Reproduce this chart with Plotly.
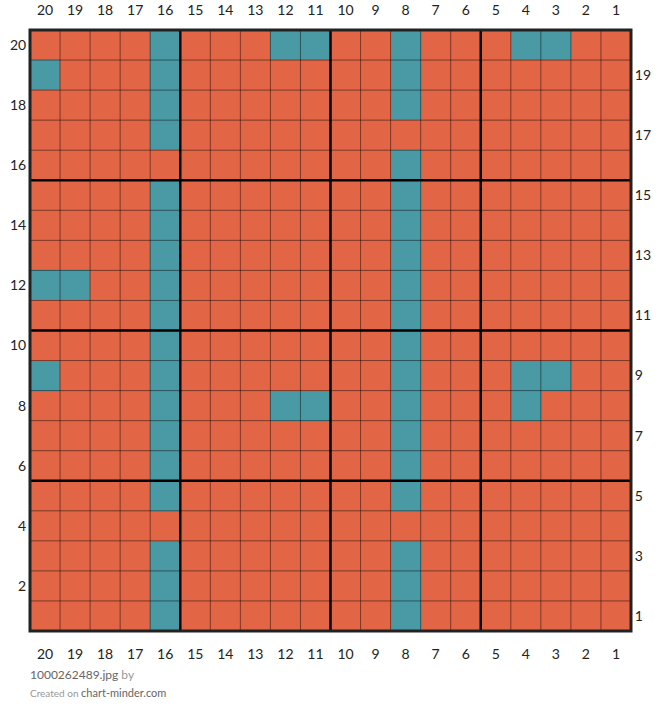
import plotly.graph_objects as go

# column / row labels as shown on the chart
col_labels = list(range(20, 0, -1))   # left -> right
row_labels = list(range(20, 0, -1))   # top -> bottom

# teal cells, as (row, column) pairs, listed row by row
teal_rows = [20, 20, 20, 20, 20, 20,
             19, 19, 19,
             18, 18,
             17,
             16,
             15, 15,
             14, 14,
             13, 13,
             12, 12, 12, 12,
             11, 11,
             10, 10,
             9, 9, 9, 9, 9,
             8, 8, 8, 8, 8,
             7, 7,
             6, 6,
             5, 5,
             3, 3,
             2, 2,
             1, 1]
teal_cols = [16, 12, 11, 8, 4, 3,
             20, 16, 8,
             16, 8,
             16,
             8,
             16, 8,
             16, 8,
             16, 8,
             20, 19, 16, 8,
             16, 8,
             16, 8,
             20, 16, 8, 4, 3,
             16, 12, 11, 8, 4,
             16, 8,
             16, 8,
             16, 8,
             16, 8,
             16, 8,
             16, 8]

ORANGE = "#E26546"
TEAL = "#4A9AA6"

teal = set(zip(teal_rows, teal_cols))
z = [[1 if (r, c) in teal else 0 for c in col_labels] for r in row_labels]

fig = go.Figure()
fig.add_trace(go.Heatmap(
    z=z, x=col_labels, y=row_labels,
    colorscale=[[0, ORANGE], [0.5, ORANGE], [0.5, TEAL], [1, TEAL]],
    zmin=0, zmax=1, showscale=False, hoverinfo="skip",
))
# invisible trace to carry the secondary (top / right) axes
fig.add_trace(go.Scatter(x=[col_labels[0]], y=[row_labels[0]], xaxis="x2", yaxis="y2",
                         mode="markers", marker=dict(opacity=0), hoverinfo="skip",
                         showlegend=False))

# grid lines between cells
shapes = []
for k in range(1, 20):
    b = k + 0.5
    heavy = k % 5 == 0
    style = dict(color="black" if heavy else "rgba(0,0,0,0.45)", width=2.5 if heavy else 1)
    shapes.append(dict(type="line", xref="x", yref="y", x0=b, x1=b, y0=0.5, y1=20.5, line=style))
    shapes.append(dict(type="line", xref="x", yref="y", x0=0.5, x1=20.5, y0=b, y1=b, line=style))
shapes.append(dict(type="rect", xref="paper", yref="paper", x0=0, x1=1, y0=0, y1=1,
                   line=dict(color="#222", width=3)))

tickfont = dict(family="Lato", size=14, color="#222")
xr = [20.5, 0.5]
yr = [0.5, 20.5]
common = dict(showgrid=False, zeroline=False, ticks="outside", tickcolor="rgba(0,0,0,0)",
              tickfont=tickfont, automargin=False, fixedrange=True)
fig.update_layout(
    width=660, height=723,
    margin=dict(l=30, r=29, t=30, b=92),
    paper_bgcolor="white", plot_bgcolor="white",
    shapes=shapes,
    showlegend=False,
    xaxis=dict(range=xr, tickvals=col_labels, side="bottom", ticklen=10, **common),
    xaxis2=dict(range=xr, tickvals=col_labels, side="top", overlaying="x", ticklen=8, **common),
    yaxis=dict(range=yr, tickvals=[r for r in row_labels if r % 2 == 0], side="left",
               ticklen=0, **common),
    yaxis2=dict(range=yr, tickvals=[r for r in row_labels if r % 2 == 1], side="right",
                overlaying="y", ticklen=0, **common),
    annotations=[
        dict(x=0, y=-0.073, xref="paper", yref="paper", xanchor="left", yanchor="middle",
             showarrow=False, align="left", xshift=-2,
             text="1000262489.jpg <span style='color:#999'>by</span>",
             font=dict(family="Lato", size=12, color="#666")),
        dict(x=0, y=-0.103, xref="paper", yref="paper", xanchor="left", yanchor="middle",
             showarrow=False, align="left", xshift=-2,
             text="<span style='font-size:10px;color:#999'>Created on </span>chart-minder.com",
             font=dict(family="Lato", size=11, color="#666")),
    ],
)

fig.write_html("out.html", config={"displayModeBar": False},
               post_script="document.body.style.margin='0';")
